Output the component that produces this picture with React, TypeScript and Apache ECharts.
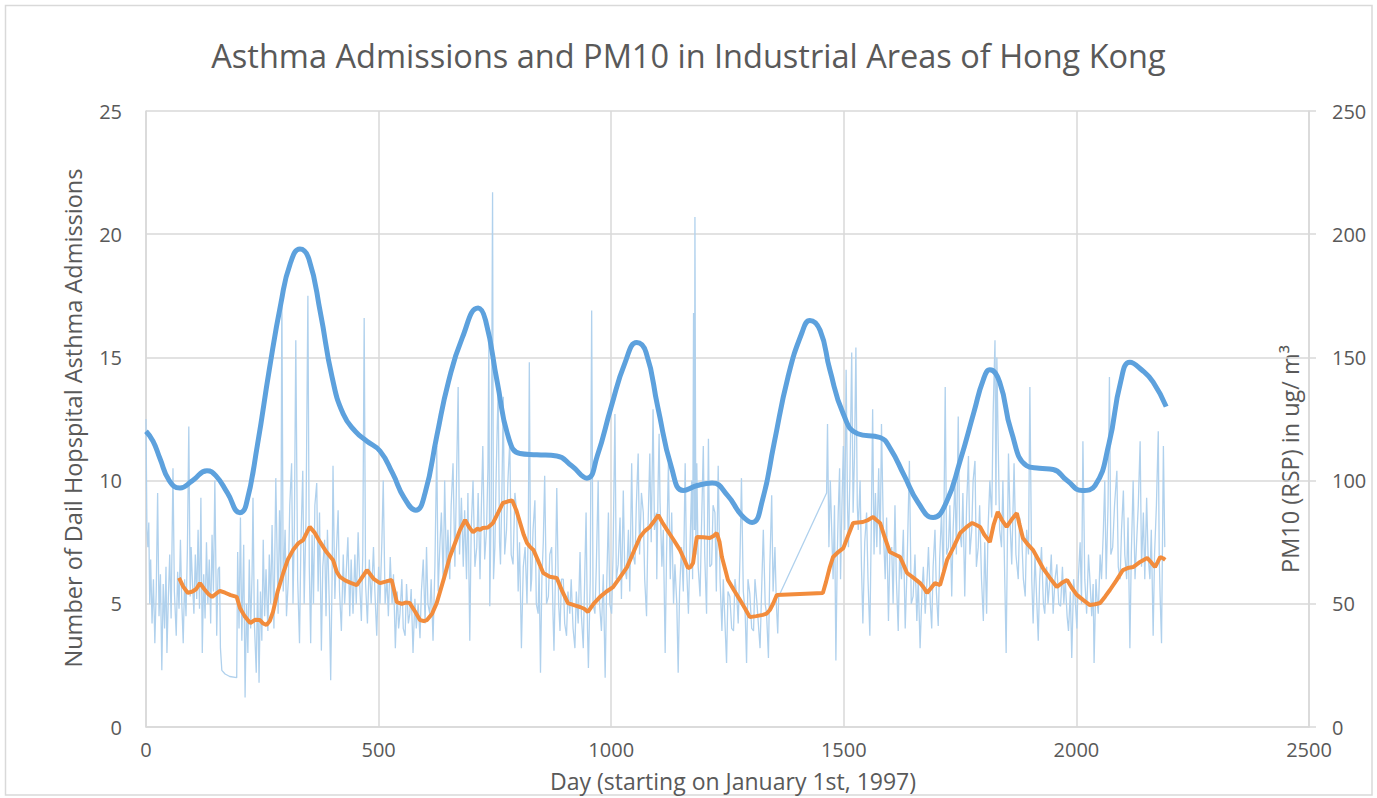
import React, { useEffect, useRef } from "react";
import * as echarts from "echarts";

const chartTitle = "Asthma Admissions and PM10 in Industrial Areas of Hong Kong";
const xTitle = "Day (starting on January 1st, 1997)";
const leftTitle = "Number of Dail Hopspital Asthma Admissions";
const rightTitle = "PM10 (RSP) in ug/ m³";

// daily admissions [day, count] (left axis)
const admissionsDaily: [number, number][] = [
[0,12.5],[2,8.0],[4,7.3],[6,8.3],[8,5.0],[10,6.8],[13,4.2],[16,6.0],[19,3.4],[22,5.5],[25,9.5],[28,4.5],[31,6.2],[34,2.3],[37,5.8],[40,4.0],[43,6.5],[45,3.0],[48,5.2],[51,7.0],[54,4.4],[58,10.5],[61,5.5],[65,3.7],[68,6.3],[71,4.8],[74,7.6],[77,5.0],[80,3.4],[83,6.0],[86,4.5],[89,7.2],[92,12.2],[95,5.3],[97,7.3],[100,5.8],[103,4.6],[106,7.0],[109,5.2],[112,8.0],[115,4.8],[118,9.3],[121,3.0],[124,6.2],[127,4.4],[130,7.5],[133,5.0],[136,6.8],[139,4.2],[142,7.8],[145,5.5],[148,10.0],[152,3.7],[155,6.4],[158,6.5],[160,3.2],[163,2.3],[170,2.15],[180,2.05],[195,2.0],[197,7.1],[200,4.0],[203,8.5],[206,3.5],[210,7.4],[213,1.2],[216,5.0],[219,3.0],[222,6.8],[225,4.0],[228,6.2],[230,9.3],[233,4.2],[237,2.2],[240,6.0],[243,1.8],[246,5.5],[249,3.5],[252,7.6],[255,4.5],[258,6.4],[262,3.9],[265,7.0],[268,5.0],[271,8.2],[275,4.0],[279,10.1],[284,4.6],[287,8.8],[290,6.0],[292,17.7],[295,5.5],[299,8.0],[302,4.5],[306,6.0],[309,9.0],[313,10.7],[316,5.0],[319,8.2],[322,15.7],[326,6.0],[330,3.4],[333,7.5],[337,10.4],[340,5.0],[344,8.5],[348,17.5],[351,6.5],[354,3.4],[357,7.8],[360,5.0],[363,9.0],[367,9.9],[370,5.5],[373,8.7],[377,3.1],[380,6.5],[384,7.6],[387,4.5],[390,8.0],[394,5.0],[397,1.9],[400,6.0],[402,10.6],[406,5.2],[409,7.0],[413,8.8],[416,5.5],[420,3.9],[424,7.0],[427,5.0],[431,6.5],[434,7.7],[438,4.5],[441,6.8],[445,4.6],[449,7.0],[452,5.0],[456,7.9],[460,5.5],[463,4.3],[466,7.0],[469,16.6],[472,5.8],[476,4.2],[480,6.8],[484,5.0],[489,7.3],[492,5.5],[496,3.7],[500,6.5],[503,5.0],[507,7.5],[510,10.0],[514,5.0],[518,6.0],[521,4.5],[525,6.9],[529,5.0],[532,6.2],[536,3.2],[540,5.5],[543,4.0],[546,4.6],[550,6.0],[553,4.0],[557,3.7],[560,5.8],[564,4.2],[567,4.6],[570,5.6],[574,3.0],[578,5.2],[581,4.0],[585,5.0],[589,3.6],[592,5.5],[596,6.8],[600,4.2],[603,7.3],[606,5.0],[610,4.6],[613,6.0],[617,3.5],[621,6.5],[625,11.4],[628,5.5],[632,7.5],[635,8.7],[639,5.8],[642,10.0],[646,6.2],[649,8.0],[653,6.0],[656,9.0],[660,10.7],[664,6.5],[667,9.5],[671,13.8],[674,7.0],[678,9.3],[682,6.5],[685,8.8],[689,6.0],[692,9.5],[696,3.5],[699,8.0],[703,10.0],[707,6.5],[711,7.3],[714,9.5],[718,6.0],[721,9.0],[724,11.4],[728,6.8],[732,8.0],[735,10.5],[737,15.6],[739,4.9],[742,9.0],[745,21.7],[747,6.0],[750,7.3],[753,10.5],[757,13.8],[760,7.5],[762,6.6],[765,9.5],[768,13.4],[771,7.0],[775,8.0],[778,10.0],[782,11.6],[785,7.0],[789,6.6],[793,9.5],[797,8.7],[800,5.5],[803,7.5],[807,3.2],[811,6.5],[815,7.3],[819,5.0],[822,8.5],[824,14.8],[827,5.5],[829,6.0],[832,8.0],[836,9.2],[839,5.0],[843,4.6],[845,6.5],[848,2.2],[851,6.0],[854,7.5],[857,10.2],[861,5.0],[865,5.3],[868,7.0],[872,7.3],[875,4.5],[877,3.1],[880,6.0],[883,9.7],[887,5.0],[890,3.9],[893,6.0],[897,6.0],[900,4.2],[904,3.7],[907,5.5],[911,4.6],[914,6.0],[918,4.0],[922,3.2],[925,5.5],[929,4.2],[933,7.1],[936,4.5],[940,3.2],[943,6.0],[946,8.7],[949,4.0],[951,2.4],[955,6.0],[958,16.9],[961,5.0],[965,4.6],[968,6.5],[972,10.0],[975,5.0],[979,3.9],[983,6.2],[987,2.0],[990,5.5],[994,8.7],[997,5.0],[1001,4.6],[1004,7.0],[1008,12.7],[1011,6.0],[1015,6.6],[1019,8.5],[1022,5.2],[1026,9.6],[1029,6.5],[1033,6.0],[1037,8.0],[1040,5.5],[1044,10.7],[1047,7.0],[1051,6.6],[1054,9.0],[1058,11.1],[1061,7.0],[1065,9.5],[1069,8.7],[1072,6.0],[1076,4.5],[1079,8.0],[1083,11.1],[1086,7.5],[1090,12.9],[1093,8.0],[1097,8.7],[1098,6.0],[1101,10.0],[1103,11.9],[1105,9.1],[1109,6.5],[1112,8.0],[1116,3.0],[1119,7.0],[1123,10.7],[1127,6.0],[1130,8.7],[1134,5.0],[1137,6.6],[1141,5.0],[1144,2.2],[1147,5.5],[1151,7.3],[1155,5.5],[1159,10.7],[1162,6.5],[1166,4.6],[1169,7.0],[1173,10.0],[1175,6.0],[1177,16.8],[1179,8.0],[1180,20.7],[1182,7.0],[1184,10.7],[1187,6.5],[1191,5.3],[1194,8.0],[1198,11.4],[1201,7.0],[1205,4.6],[1207,8.0],[1209,11.7],[1212,6.5],[1216,6.6],[1219,9.0],[1223,8.7],[1226,5.5],[1230,10.6],[1234,6.0],[1238,3.9],[1241,6.0],[1245,4.0],[1248,2.6],[1251,5.5],[1255,5.3],[1259,4.0],[1263,3.9],[1266,6.0],[1270,5.3],[1273,4.2],[1277,7.0],[1280,10.1],[1284,5.5],[1288,4.6],[1291,2.6],[1294,6.0],[1298,5.4],[1302,4.0],[1306,3.9],[1309,6.0],[1313,5.1],[1317,4.0],[1320,3.2],[1324,6.0],[1327,8.0],[1331,5.0],[1334,4.6],[1338,2.8],[1341,6.5],[1345,9.4],[1348,5.5],[1352,7.3],[1355,5.0],[1358,3.8],[1360,5.3],[1463,9.5],[1465,12.3],[1468,7.3],[1471,10.0],[1474,8.0],[1477,6.0],[1480,9.0],[1483,2.7],[1486,7.0],[1488,8.7],[1491,10.5],[1493,6.0],[1496,9.0],[1499,11.4],[1502,8.0],[1505,14.5],[1508,9.0],[1510,7.3],[1513,10.0],[1517,15.2],[1520,8.7],[1523,11.0],[1526,15.4],[1529,9.0],[1531,8.0],[1535,10.0],[1538,6.5],[1541,4.2],[1545,7.5],[1549,8.7],[1552,6.0],[1556,3.7],[1559,8.0],[1562,12.9],[1565,7.0],[1568,9.5],[1571,7.3],[1575,10.5],[1578,7.0],[1581,12.3],[1585,8.0],[1589,6.0],[1592,8.5],[1596,4.3],[1599,7.0],[1603,7.3],[1606,5.0],[1610,9.0],[1613,6.0],[1617,3.9],[1620,7.0],[1624,6.0],[1628,8.0],[1632,4.0],[1636,6.5],[1641,10.8],[1645,5.0],[1649,5.3],[1653,7.0],[1657,4.3],[1660,6.0],[1664,3.2],[1668,5.5],[1671,6.5],[1675,4.6],[1679,6.0],[1682,7.3],[1686,5.0],[1689,4.0],[1692,6.5],[1696,8.0],[1699,5.5],[1703,4.1],[1706,6.8],[1710,8.7],[1714,6.0],[1718,13.8],[1721,7.0],[1725,7.3],[1728,9.0],[1732,5.3],[1735,8.0],[1739,10.0],[1742,7.0],[1746,12.6],[1749,8.0],[1753,7.3],[1756,9.5],[1760,5.3],[1764,9.0],[1768,11.0],[1771,7.0],[1775,8.0],[1778,10.0],[1782,10.8],[1785,6.5],[1789,7.3],[1792,9.0],[1796,6.0],[1800,4.3],[1803,7.5],[1807,4.6],[1810,8.0],[1814,10.0],[1818,8.5],[1821,12.7],[1825,15.7],[1827,9.0],[1829,15.0],[1832,11.4],[1835,8.0],[1839,7.3],[1842,10.0],[1846,6.0],[1849,3.0],[1852,8.0],[1854,11.1],[1858,8.0],[1861,6.6],[1864,9.0],[1866,10.7],[1870,7.0],[1875,6.0],[1878,8.5],[1882,8.0],[1886,6.0],[1890,5.3],[1893,8.0],[1897,7.0],[1900,13.8],[1904,6.0],[1907,4.2],[1911,7.0],[1914,5.5],[1918,3.5],[1921,6.0],[1925,7.3],[1929,5.0],[1932,4.6],[1936,6.5],[1939,5.0],[1943,6.0],[1946,7.0],[1950,4.6],[1954,6.0],[1958,6.6],[1962,5.0],[1966,4.9],[1970,6.5],[1973,5.0],[1976,6.0],[1980,4.5],[1983,3.9],[1987,5.5],[1990,2.8],[1994,6.0],[1997,5.3],[2001,4.0],[2004,6.0],[2008,7.5],[2011,5.0],[2014,11.6],[2018,6.0],[2022,4.6],[2026,7.0],[2029,6.0],[2033,4.5],[2036,5.8],[2038,2.6],[2042,6.0],[2045,5.0],[2047,4.6],[2051,7.0],[2054,6.0],[2058,8.0],[2061,10.0],[2064,6.0],[2068,9.0],[2071,14.2],[2074,7.0],[2078,7.3],[2082,9.0],[2087,10.4],[2090,6.5],[2094,6.0],[2097,8.0],[2101,9.6],[2104,7.0],[2108,6.0],[2111,8.5],[2115,3.2],[2118,7.0],[2122,10.0],[2126,6.0],[2129,7.3],[2133,9.0],[2137,11.6],[2140,6.5],[2144,8.7],[2147,6.0],[2151,9.3],[2154,7.0],[2158,6.0],[2161,8.0],[2165,3.7],[2168,7.0],[2172,9.0],[2176,12.0],[2178,7.0],[2180,5.3],[2183,3.4],[2187,11.4],[2190,7.3]
];

// moving average of admissions [day, value] (left axis)
const admissionsAvg: [number, number][] = [
[71,6.05],[80,5.7],[90,5.44],[100,5.5],[108,5.6],[116,5.84],[125,5.6],[134,5.4],[142,5.28],[150,5.4],[159,5.52],[170,5.45],[182,5.35],[195,5.28],[202,4.83],[212,4.5],[224,4.22],[235,4.35],[245,4.34],[252,4.2],[259,4.14],[266,4.3],[273,4.67],[283,5.5],[295,6.25],[305,6.8],[316,7.18],[327,7.45],[338,7.59],[346,7.9],[352,8.12],[362,7.9],[374,7.51],[388,7.1],[402,6.78],[410,6.3],[417,6.09],[428,5.95],[440,5.85],[453,5.76],[462,6.0],[475,6.37],[490,6.0],[503,5.84],[515,5.9],[528,5.97],[534,5.5],[539,5.07],[550,5.0],[558,5.05],[567,5.03],[578,4.7],[589,4.34],[597,4.3],[604,4.34],[615,4.6],[625,5.03],[640,6.0],[653,6.9],[665,7.5],[675,8.0],[686,8.4],[695,8.1],[703,7.9],[712,8.05],[718,8.0],[724,8.08],[735,8.1],[746,8.28],[757,8.7],[767,9.09],[777,9.15],[787,9.2],[796,8.8],[804,8.3],[812,7.8],[819,7.47],[826,7.3],[833,7.18],[844,6.7],[854,6.25],[868,6.1],[883,6.05],[895,5.5],[907,5.03],[920,4.95],[933,4.87],[942,4.8],[950,4.67],[962,5.0],[976,5.28],[990,5.5],[1004,5.68],[1020,6.1],[1034,6.49],[1048,7.1],[1062,7.71],[1072,7.95],[1083,8.12],[1092,8.35],[1101,8.6],[1110,8.3],[1120,8.0],[1134,7.6],[1148,7.18],[1157,6.8],[1165,6.45],[1171,6.5],[1176,6.66],[1180,7.2],[1184,7.71],[1198,7.7],[1212,7.67],[1220,7.75],[1227,7.87],[1233,7.5],[1238,6.9],[1245,6.4],[1251,5.97],[1264,5.55],[1277,5.15],[1288,4.8],[1298,4.46],[1312,4.5],[1326,4.55],[1334,4.6],[1341,4.75],[1348,5.0],[1356,5.36],[1455,5.44],[1462,5.9],[1470,6.49],[1477,6.9],[1488,7.1],[1499,7.26],[1510,7.8],[1520,8.28],[1530,8.3],[1541,8.32],[1552,8.4],[1563,8.52],[1570,8.4],[1578,8.28],[1588,7.7],[1599,7.1],[1610,7.0],[1621,6.9],[1628,6.6],[1636,6.25],[1650,6.05],[1664,5.84],[1672,5.65],[1679,5.44],[1688,5.65],[1696,5.84],[1707,5.76],[1715,6.3],[1722,6.78],[1736,7.3],[1750,7.87],[1763,8.1],[1776,8.28],[1785,8.2],[1793,8.12],[1802,7.8],[1814,7.51],[1822,8.2],[1831,8.73],[1840,8.4],[1850,8.12],[1860,8.4],[1872,8.68],[1878,8.2],[1885,7.67],[1896,7.4],[1907,7.18],[1918,6.8],[1928,6.45],[1943,6.05],[1958,5.68],[1969,5.85],[1980,5.97],[1990,5.65],[2001,5.36],[2015,5.15],[2029,4.95],[2040,4.98],[2051,5.03],[2062,5.3],[2072,5.56],[2086,5.95],[2100,6.37],[2110,6.45],[2122,6.49],[2137,6.7],[2152,6.86],[2160,6.7],[2169,6.49],[2175,6.7],[2180,6.9],[2186,6.85],[2191,6.78]
];

// smoothed PM10 trend [day, ug/m3] (right axis)
const pm10Trend: [number, number][] = [
[0,120],[15,116],[30,109],[50,100],[73,97],[100,100],[131,104],[150,102],[175,95],[202,87],[215,90],[240,115],[265,145],[290,172],[310,188],[331,194],[350,190],[375,168],[400,142],[424,127],[450,120],[475,116],[503,112],[530,103],[555,93],[580,88],[600,95],[625,118],[650,140],[680,158],[714,170],[730,165],[755,140],[780,117],[804,111],[840,110.5],[883,110],[915,106],[948,101],[970,110],[1000,130],[1030,148],[1055,156],[1075,152],[1100,130],[1130,105],[1155,96],[1185,98],[1217,99],[1250,94],[1280,86],[1303,83],[1325,92],[1350,115],[1380,142],[1410,160],[1427,165],[1449,161],[1470,145],[1499,127],[1530,119],[1578,117.5],[1600,113],[1630,102],[1660,91],[1692,85],[1720,91],[1750,108],[1780,128],[1800,141],[1814,145],[1835,140],[1860,120],[1893,106],[1920,105],[1950,104.5],[1980,100],[2012,96],[2040,98],[2070,115],[2095,140],[2115,148],[2140,145],[2165,140],[2193,130]
];

const xTicks = { min: 0, max: 2500, interval: 500 };
const leftTicks = { min: 0, max: 25, interval: 5 };
const rightTicks = { min: 0, max: 250, interval: 50 };

const FONT = "'Open Sans', 'Liberation Sans', sans-serif";
const TEXT = "#595959";
const GRID = "#d9d9d9";

export default function App() {
  const ref = useRef<HTMLDivElement>(null);
  useEffect(() => {
    if (!ref.current) return;
    const chart = echarts.init(ref.current, null, { renderer: "svg" });
    chart.setOption({
      animation: false,
      backgroundColor: "#ffffff",
      title: {
        text: chartTitle,
        left: "center",
        top: 34,
        textStyle: { fontFamily: FONT, fontSize: 32.5, fontWeight: "normal", color: TEXT },
      },
      grid: { left: 146, right: 68, top: 111, bottom: 71 },
      xAxis: {
        type: "value",
        ...xTicks,
        axisLine: { show: true, lineStyle: { color: GRID, width: 1.5 } },
        axisTick: { show: false },
        splitLine: { show: true, lineStyle: { color: GRID, width: 1.5 } },
        axisLabel: { color: TEXT, fontFamily: FONT, fontSize: 20, margin: 12, formatter: (v: number) => String(v) },
      },
      yAxis: [
        {
          type: "value",
          ...leftTicks,
          axisLine: { show: true, lineStyle: { color: GRID, width: 1.5 } },
          axisTick: { show: false },
          splitLine: { show: true, lineStyle: { color: GRID, width: 1.5 } },
          axisLabel: { color: TEXT, fontFamily: FONT, fontSize: 20, margin: 24 },
        },
        {
          type: "value",
          position: "right",
          ...rightTicks,
          axisLine: { show: true, lineStyle: { color: GRID, width: 1.5 } },
          axisTick: { show: true, length: 7, lineStyle: { color: GRID, width: 1.5 } },
          splitLine: { show: false },
          axisLabel: { color: TEXT, fontFamily: FONT, fontSize: 20, margin: 23 },
        },
      ],
      graphic: [
        {
          type: "rect",
          shape: { x: 5.5, y: 5.5, width: 1366.5, height: 789.5 },
          style: { fill: "none", stroke: GRID, lineWidth: 1.5 },
          silent: true,
        },
        {
          type: "text",
          x: 733,
          y: 781,
          style: { text: xTitle, align: "center", verticalAlign: "middle", font: `23px ${FONT}`, fill: TEXT },
        },
        {
          type: "text",
          x: 73,
          y: 418,
          rotation: Math.PI / 2,
          style: { text: leftTitle, align: "center", verticalAlign: "middle", font: `23.5px ${FONT}`, fill: TEXT },
        },
        {
          type: "text",
          x: 1290,
          y: 459,
          rotation: Math.PI / 2,
          style: { text: rightTitle, align: "center", verticalAlign: "middle", font: `23.5px ${FONT}`, fill: TEXT },
        },
      ],
      series: [
        {
          name: "Daily admissions",
          type: "line",
          yAxisIndex: 0,
          data: admissionsDaily,
          showSymbol: false,
          lineStyle: { color: "#b0d1ed", width: 1.3 },
          z: 1,
        },
        {
          name: "PM10 trend",
          type: "line",
          yAxisIndex: 1,
          data: pm10Trend,
          smooth: 0.5,
          showSymbol: false,
          lineStyle: { color: "#5da1dd", width: 5 },
          z: 2,
        },
        {
          name: "Admissions moving average",
          type: "line",
          yAxisIndex: 0,
          data: admissionsAvg,
          showSymbol: false,
          lineStyle: { color: "#f28c3c", width: 4 },
          z: 3,
        },
      ],
    });
    return () => chart.dispose();
  }, []);
  return <div ref={ref} style={{ position: "fixed", left: 0, top: 0, width: 1377, height: 798 }} />;
}
